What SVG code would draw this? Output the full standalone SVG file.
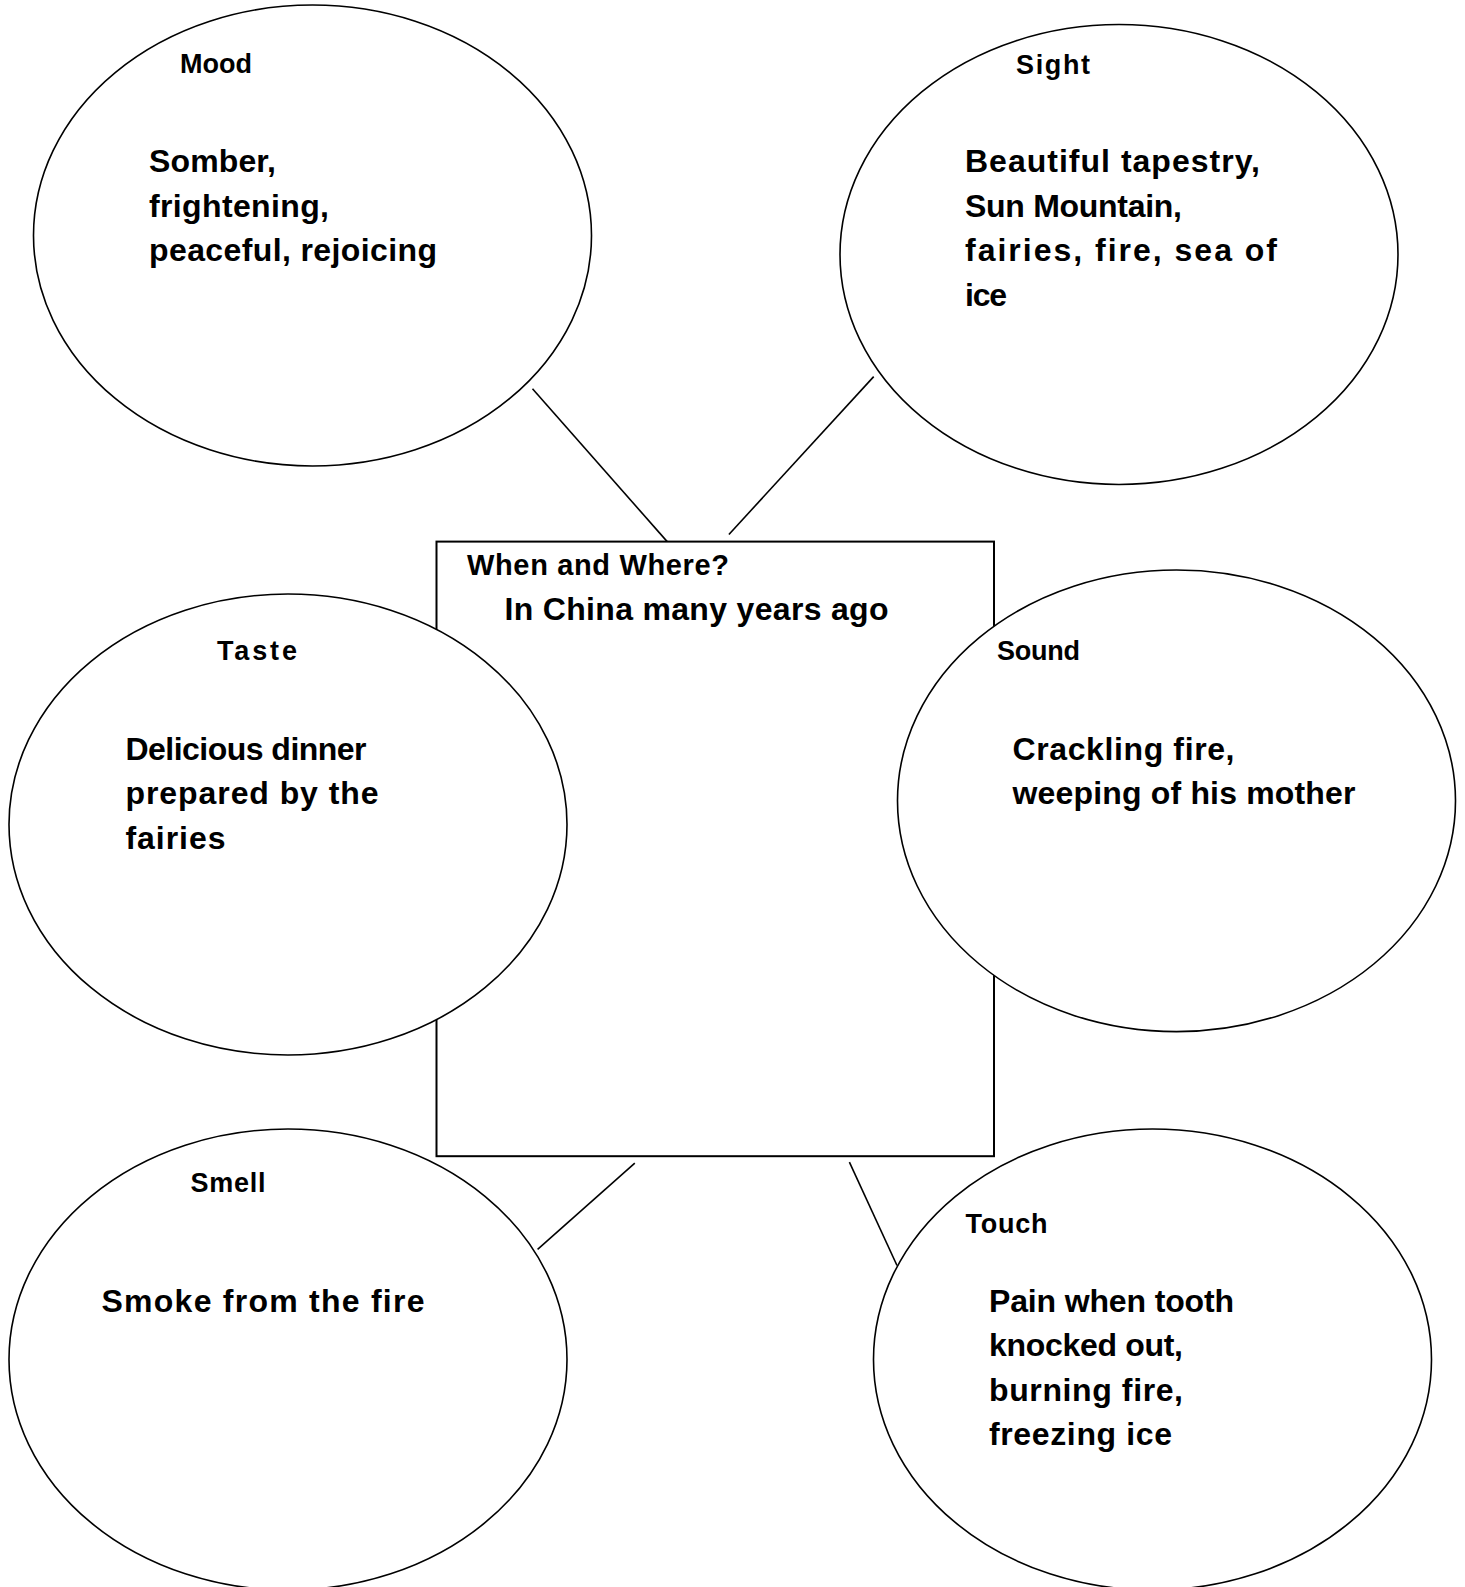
<svg xmlns="http://www.w3.org/2000/svg" width="1465" height="1587" viewBox="0 0 1465 1587">
<style>
.bg{fill:#ffffff}
.shape{fill:#ffffff;stroke:#000000;stroke-width:1.6}
.box{fill:#ffffff;stroke:#000000;stroke-width:2}
.conn{stroke:#000000;stroke-width:1.6;fill:none}
text{font-family:"Liberation Sans",Arial,sans-serif;font-weight:bold;fill:#000000}
.lab{font-size:27px}
.head{font-size:29px}
.body{font-size:32px}
</style>
<rect class="bg" x="0" y="0" width="1465" height="1587"/>
<g id="connectors">
<line class="conn" x1="532.5" y1="388.8" x2="667.2" y2="541.6"/>
<line class="conn" x1="873.7" y1="376.6" x2="728.9" y2="534.5"/>
<line class="conn" x1="634.8" y1="1163.2" x2="537.6" y2="1249.3"/>
<line class="conn" x1="849.4" y1="1162.2" x2="897" y2="1265.5"/>
</g>
<g id="center">
<rect class="box" x="436.5" y="541.6" width="557.5" height="614.6"/>
<text class="head" x="467" y="575" textLength="262">When and Where?</text>
<text class="body" x="504.5" y="619.5" textLength="384">In China many years ago</text>
</g>
<g id="mood">
<ellipse class="shape" cx="312.5" cy="235.5" rx="279" ry="230.5"/>
<text class="lab" x="180" y="73" textLength="72">Mood</text>
<text class="body" x="149" y="172" textLength="127">Somber,</text>
<text class="body" x="149" y="216.5" textLength="180">frightening,</text>
<text class="body" x="149" y="261" textLength="288">peaceful, rejoicing</text>
</g>
<g id="sight">
<ellipse class="shape" cx="1119" cy="254.5" rx="279" ry="230"/>
<text class="lab" x="1016" y="74" textLength="74">Sight</text>
<text class="body" x="965" y="172" textLength="295">Beautiful tapestry,</text>
<text class="body" x="965" y="216.5" textLength="217">Sun Mountain,</text>
<text class="body" x="965" y="261" textLength="312">fairies, fire, sea of</text>
<text class="body" x="965" y="305.5" textLength="42">ice</text>
</g>
<g id="taste">
<ellipse class="shape" cx="288" cy="824.5" rx="279" ry="230.5"/>
<text class="lab" x="217" y="659.5" textLength="80">Taste</text>
<text class="body" x="125.5" y="759.5" textLength="241">Delicious dinner</text>
<text class="body" x="125.5" y="804" textLength="253">prepared by the</text>
<text class="body" x="125.5" y="848.5" textLength="100">fairies</text>
</g>
<g id="sound">
<ellipse class="shape" cx="1176.5" cy="800.8" rx="279" ry="230.8"/>
<text class="lab" x="997" y="659.5" textLength="83">Sound</text>
<text class="body" x="1012.5" y="759.5" textLength="222">Crackling fire,</text>
<text class="body" x="1012.5" y="804" textLength="343">weeping of his mother</text>
</g>
<g id="smell">
<ellipse class="shape" cx="288" cy="1359.5" rx="279" ry="230.5"/>
<text class="lab" x="190.5" y="1192" textLength="75">Smell</text>
<text class="body" x="101.5" y="1311.5" textLength="323">Smoke from the fire</text>
</g>
<g id="touch">
<ellipse class="shape" cx="1152.5" cy="1359.5" rx="279" ry="230.5"/>
<text class="lab" x="965.5" y="1233" textLength="82">Touch</text>
<text class="body" x="989" y="1311.5" textLength="245">Pain when tooth</text>
<text class="body" x="989" y="1356" textLength="194">knocked out,</text>
<text class="body" x="989" y="1400.5" textLength="194">burning fire,</text>
<text class="body" x="989" y="1445" textLength="183">freezing ice</text>
</g>
</svg>
